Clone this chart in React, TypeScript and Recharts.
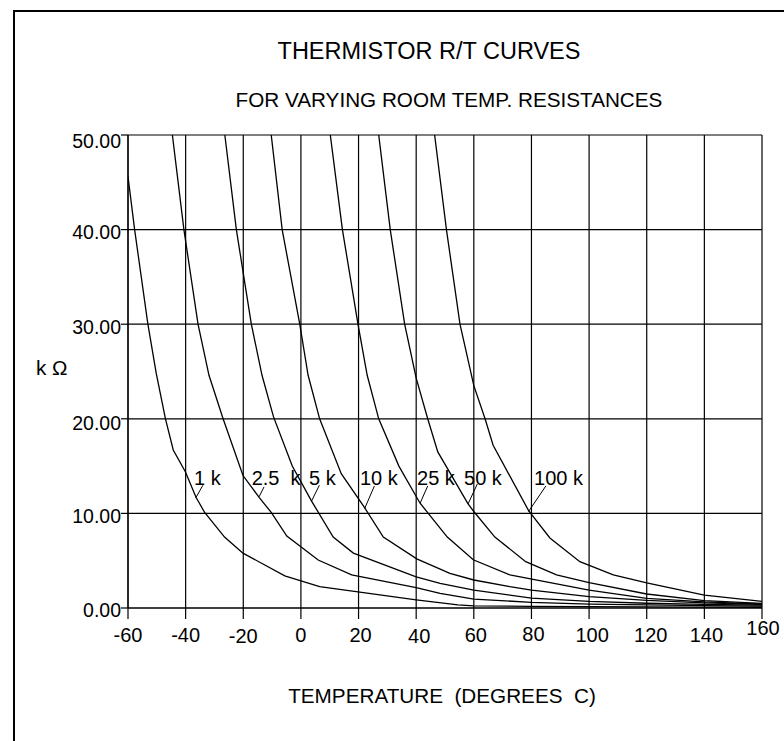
import React from 'react';
import { ComposedChart, Line, XAxis, YAxis, CartesianGrid, Scatter, ReferenceLine } from 'recharts';

type Pt = [number, number];

// temperature (°C), resistance (kΩ)
const curve1k: Pt[] = [[-60, 45.6], [-57.7, 40], [-53.1, 30], [-50.2, 24.8], [-47.0, 20], [-44.3, 16.7], [-40.1, 14.4], [-36.4, 11.7], [-33.4, 10.1], [-26.5, 7.5], [-20.1, 5.8], [-5.6, 3.4], [6.5, 2.25], [19.8, 1.7], [40, 0.85], [54.5, 0.32], [60, 0.22], [80, 0.17], [100, 0.14], [120, 0.12], [140, 0.1], [160, 0.08]];
const curve2k5: Pt[] = [[-44.6, 50], [-40.6, 40], [-35.7, 30], [-31.9, 24.6], [-27, 20], [-20.1, 14.0], [-14.5, 11.7], [-10.3, 10.1], [-4.9, 7.6], [6, 5.07], [17.6, 3.5], [40, 2.15], [48.3, 1.55], [60, 0.94], [80, 0.6], [100, 0.42], [120, 0.32], [140, 0.25], [160, 0.2]];
const curve5k: Pt[] = [[-26.4, 50], [-22.4, 40], [-17.2, 30], [-13.5, 24.6], [-9.5, 20.2], [-3, 15], [3.7, 11.3], [11.2, 7.5], [18.2, 5.8], [40, 3.3], [48.3, 2.6], [60, 1.9], [80, 1.05], [100, 0.7], [120, 0.5], [140, 0.38], [160, 0.3]];
const curve10k: Pt[] = [[-10.3, 50], [-6.5, 40], [-0.4, 30], [2.5, 24.6], [6.5, 20], [14, 14.2], [22.1, 10.6], [28.6, 7.5], [40.2, 5.2], [51.7, 3.67], [60, 2.96], [72.5, 2.25], [80, 1.9], [100, 1.2], [120, 0.8], [140, 0.55], [160, 0.38]];
const curve25k: Pt[] = [[10.2, 50], [14.4, 40], [19.8, 30], [23, 24.6], [27, 20], [34, 15], [41.3, 11.1], [50.8, 7.5], [59.8, 5.1], [72.5, 3.5], [100, 1.9], [120, 1.02], [140, 0.65], [160, 0.42]];
const curve50k: Pt[] = [[27, 50], [31, 40], [36, 30], [40, 24.3], [44, 20], [47.5, 16.5], [58, 11.0], [60, 10.2], [67.3, 7.5], [78, 4.9], [88.7, 3.5], [100, 2.68], [120, 1.48], [140, 0.77], [160, 0.49]];
const curve100k: Pt[] = [[46.4, 50], [50.5, 40], [55.2, 30], [60, 23.5], [63.9, 20], [66.7, 17.2], [79, 10.3], [86.4, 7.4], [96.8, 4.9], [108.4, 3.5], [120, 2.65], [140, 1.37], [160, 0.7]];

const curves: Pt[][] = [curve1k, curve2k5, curve5k, curve10k, curve25k, curve50k, curve100k];

const curveLabels = ['1 k', '2.5  k', '5 k', '10 k', '25 k', '50 k', '100 k'];
const labelT = [-37.1, -17.1, 2.8, 20.5, 40.3, 56.6, 80.9];
const labelR = [13.0, 13.0, 13.0, 13.0, 13.0, 13.0, 13.0];
const leaderStart: Pt[] = [[-34.0, 12.98], [-12.8, 12.8], [6.4, 12.98], [25.5, 12.9], [44.0, 12.9], [61.2, 13.1], [85.0, 12.9]];
const leaderEnd: Pt[] = [[-36.5, 11.64], [-14.5, 11.76], [3.7, 11.3], [22.1, 10.5], [41.4, 11.1], [58.0, 11.0], [79.0, 10.2]];

const tempTicks = [-60, -40, -20, 0, 20, 40, 60, 80, 100, 120, 140, 160];
const resTicks = [0, 10, 20, 30, 40, 50];

const FONT = '"Liberation Sans", Arial, Helvetica, sans-serif';

// small label nudges (styling only)
const X_NUDGE: Record<number, [number, number]> = {
  [-20]: [0, 1], 20: [2, 0], 40: [3, 1], 60: [2, 0], 80: [2, -1], 100: [3, 0], 120: [4, 0], 140: [2, 0], 160: [1, -7],
};
const Y_NUDGE: Record<number, number> = { 50: 13.3, 40: 9.3, 30: 10, 20: 10.7, 10: 10, 0: 8.5 };

const XTick = (props: any) => {
  const { x, y, payload } = props;
  const v = payload.value as number;
  const n = X_NUDGE[v] || [0, 0];
  return (
    <text x={x + n[0]} y={y + 23 + n[1]} textAnchor="middle" fontSize={20} fontFamily={FONT} fill="#000">
      {v}
    </text>
  );
};

const YTick = (props: any) => {
  const { x, y, payload } = props;
  const v = payload.value as number;
  return (
    <text x={x} y={y + (Y_NUDGE[v] ?? 10)} textAnchor="end" fontSize={19.5} fontFamily={FONT} fill="#000">
      {v.toFixed(2)}
    </text>
  );
};

const LabelShape = (props: any) => {
  const { cx, cy, payload } = props;
  return (
    <text x={cx} y={cy} fontSize={20} fontFamily={FONT} fill="#000" style={{ whiteSpace: 'pre' }}>
      {payload.label}
    </text>
  );
};

export default function App() {
  const series = curves.map((c) => c.map(([t, r]) => ({ t, r })));
  const labelData = curveLabels.map((label, i) => ({ t: labelT[i], r: labelR[i], label }));
  return (
    <div style={{ position: 'fixed', left: 0, top: 0, width: 784, height: 741, overflow: 'hidden', background: '#fff' }}>
      <ComposedChart width={784} height={741} margin={{ top: 135, right: 22, bottom: 103, left: 68 }}>
        <CartesianGrid stroke="#000" strokeWidth={1.2} verticalValues={tempTicks} horizontalValues={resTicks} />
        <XAxis
          type="number"
          dataKey="t"
          domain={[-60, 160]}
          ticks={tempTicks}
          allowDataOverflow
          height={30}
          tickSize={11}
          tickMargin={0}
          tick={<XTick />}
          axisLine={{ stroke: '#000', strokeWidth: 1.2 }}
          tickLine={{ stroke: '#000', strokeWidth: 1.2 }}
          interval={0}
        />
        <YAxis
          type="number"
          domain={[0, 50]}
          ticks={resTicks}
          allowDataOverflow
          width={60}
          tickSize={7}
          tickMargin={0}
          tick={<YTick />}
          axisLine={{ stroke: '#000', strokeWidth: 1.2 }}
          tickLine={{ stroke: '#000', strokeWidth: 1.2 }}
          interval={0}
        />
        {series.map((d, i) => (
          <Line
            key={i}
            data={d}
            dataKey="r"
            type="linear"
            stroke="#000"
            strokeWidth={1.3}
            dot={false}
            activeDot={false}
            isAnimationActive={false}
          />
        ))}
        {leaderStart.map((s, i) => (
          <ReferenceLine
            key={'l' + i}
            segment={[{ x: s[0], y: s[1] }, { x: leaderEnd[i][0], y: leaderEnd[i][1] }]}
            stroke="#000"
            strokeWidth={1}
            ifOverflow="visible"
          />
        ))}
        <Scatter data={labelData} dataKey="r" shape={<LabelShape />} isAnimationActive={false} />
      </ComposedChart>
      <svg width={784} height={741} style={{ position: 'absolute', left: 0, top: 0, pointerEvents: 'none' }}>
        <line x1={14} y1={10} x2={14} y2={741} stroke="#000" strokeWidth={2} />
        <line x1={13} y1={11} x2={784} y2={11} stroke="#000" strokeWidth={2} />
        <text x={429} y={59.3} textAnchor="middle" fontSize={23.5} fontFamily={FONT} fill="#000">
          THERMISTOR R/T CURVES
        </text>
        <text x={449} y={106.7} textAnchor="middle" fontSize={20.7} fontFamily={FONT} fill="#000">
          FOR VARYING ROOM TEMP. RESISTANCES
        </text>
        <text x={442} y={703.3} textAnchor="middle" fontSize={20.7} fontFamily={FONT} fill="#000" style={{ whiteSpace: 'pre' }}>
          {'TEMPERATURE  (DEGREES  C)'}
        </text>
        <text x={36} y={375} fontSize={20.7} fontFamily={FONT} fill="#000" style={{ whiteSpace: 'pre' }}>
          {'k Ω'}
        </text>
      </svg>
    </div>
  );
}
